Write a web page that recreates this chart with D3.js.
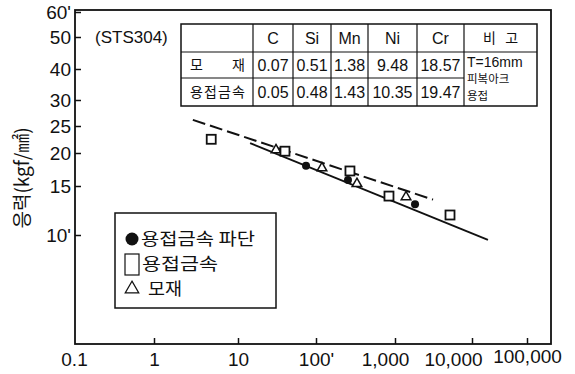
<!DOCTYPE html>
<html>
<head>
<meta charset="utf-8">
<script src="https://cdn.jsdelivr.net/npm/d3@7"></script>
<style>
  body { margin: 0; background: #fff; }
  svg { display: block; }
  .axis text { font-family: "Liberation Sans", Arial, sans-serif; font-size: 19px; fill: #111; }
  .axis line { stroke: #111; stroke-width: 1.5; }
  .kr { font-family: "Noto Sans CJK KR", sans-serif; fill: #111; }
  .num { font-family: "Liberation Sans Narrow", "Liberation Sans", Arial, sans-serif; fill: #111; }
</style>
</head>
<body>
<svg id="chart" width="575" height="374"></svg>
<script>
// x: cycles (log), y: stress kgf/mm2 (log)
const xTicks = [0.1, 1, 10, 100, 1000, 10000, 100000];
const xTickLabels = ['0.1', '1', '10', "100'", '1,000', '10,000', '100,000'];
const yTicks = [10, 15, 20, 25, 30, 40, 50, 60];
const yTickLabels = ["10'", '15', '20', '25', '30', '40', '50', "60'"];

// 용접금속 파단 (filled circles)
const weldFracture = [[74.5, 17.9], [254, 15.8], [1820, 12.9]];
// 용접금속 (squares)
const weldMetal = [[4.8, 22.4], [40, 20.3], [269, 17.1], [839, 13.8], [5180, 11.8]];
// 모재 (triangles)
const baseMetal = [[30.7, 20.5], [119, 17.55], [330, 15.3], [1390, 13.7]];

const solidLine = [[14.3, 21.7], [19500, 9.6]];
const dashedLine = [[2.9, 26.1], [3120, 13.4]];

// composition table
const elements = ['C', 'Si', 'Mn', 'Ni', 'Cr'];
const rowNames = ['모재', '용접금속'];
const baseComp = ['0.07', '0.51', '1.38', '9.48', '18.57'];
const weldComp = ['0.05', '0.48', '1.43', '10.35', '19.47'];
const remarkHead = '비   고';
const remarkLines = ['T=16mm', '피복아크', '용접'];

const legendItems = ['용접금속 파단', '용접금속', '모재'];

const frame = { left: 75, right: 551, top: 10, bottom: 344 };

const svg = d3.select('#chart');

// the printed axes are not evenly spaced, so piecewise log scales follow the ticks
const x = d3.scaleLog()
  .domain(xTicks)
  .range([74, 154, 238, 316, 395, 472, 527]);

const y = d3.scaleLog()
  .domain(yTicks)
  .range([235, 186, 153, 126, 100, 69, 37, 12]);

const xAxis = d3.axisBottom(x)
  .tickValues(xTicks)
  .tickFormat((d, i) => xTickLabels[i])
  .tickSizeInner(-6)
  .tickSizeOuter(0)
  .tickPadding(9);

const yAxis = d3.axisLeft(y)
  .tickValues(yTicks)
  .tickFormat((d, i) => yTickLabels[i])
  .tickSizeInner(-6)
  .tickSizeOuter(0)
  .tickPadding(4);

const gx = svg.append('g')
  .attr('class', 'axis')
  .attr('transform', `translate(0,${frame.bottom})`)
  .call(xAxis);
gx.select('.domain').remove();
gx.select('.tick:first-of-type line').remove();
// crowded labels at the right end are nudged as in the print
gx.selectAll('.tick text')
  .attr('x', d => d === 1000 ? -10 : d === 10000 ? -19 : 0)
  .attr('y', d => d === 100000 ? 6 : 9);

const gy = svg.append('g')
  .attr('class', 'axis')
  .attr('transform', `translate(${frame.left},0)`)
  .call(yAxis);
gy.select('.domain').remove();
gy.selectAll('.tick text').attr('dy', '0.36em');

// frame
svg.append('rect')
  .attr('x', frame.left)
  .attr('y', frame.top)
  .attr('width', frame.right - frame.left)
  .attr('height', frame.bottom - frame.top)
  .attr('fill', 'none')
  .attr('stroke', '#111')
  .attr('stroke-width', 1.8);

// y title
svg.append('text')
  .attr('class', 'kr')
  .attr('transform', 'translate(29,178) rotate(-90)')
  .attr('text-anchor', 'middle')
  .style('font-size', '19px')
  .text('응력(kgf/㎟)');

svg.append('text')
  .attr('class', 'num')
  .attr('x', 95)
  .attr('y', 43)
  .style('font-family', '"Liberation Sans", Arial, sans-serif')
  .style('font-size', '17px')
  .text('(STS304)');

// lines
const line = d3.line().x(d => x(d[0])).y(d => y(d[1]));

svg.append('path')
  .attr('d', line(solidLine))
  .attr('fill', 'none')
  .attr('stroke', '#111')
  .attr('stroke-width', 1.8);

svg.append('path')
  .attr('d', line(dashedLine))
  .attr('fill', 'none')
  .attr('stroke', '#111')
  .attr('stroke-width', 2)
  .attr('stroke-dasharray', '13,5');

// markers
const tri = d3.symbol().type(d3.symbolTriangle).size(40);

svg.selectAll('.tri')
  .data(baseMetal)
  .enter()
  .append('path')
  .attr('class', 'tri')
  .attr('d', tri)
  .attr('transform', d => `translate(${x(d[0])},${y(d[1])})`)
  .attr('fill', '#fff')
  .attr('stroke', '#111')
  .attr('stroke-width', 1.5);

svg.selectAll('.sq')
  .data(weldMetal)
  .enter()
  .append('rect')
  .attr('class', 'sq')
  .attr('x', d => x(d[0]) - 4.5)
  .attr('y', d => y(d[1]) - 4.5)
  .attr('width', 9)
  .attr('height', 9)
  .attr('fill', '#fff')
  .attr('stroke', '#111')
  .attr('stroke-width', 1.8);

svg.selectAll('.dot')
  .data(weldFracture)
  .enter()
  .append('circle')
  .attr('class', 'dot')
  .attr('cx', d => x(d[0]))
  .attr('cy', d => y(d[1]))
  .attr('r', 4)
  .attr('fill', '#111');

// table
const colX = [181, 253, 293, 331, 368, 417, 464, 537];
const rowY = [24, 52, 78, 106];
const tbl = svg.append('g');

tbl.append('rect')
  .attr('x', colX[0]).attr('y', rowY[0])
  .attr('width', colX[7] - colX[0]).attr('height', rowY[3] - rowY[0])
  .attr('fill', '#fff').attr('stroke', '#111').attr('stroke-width', 1.5);

colX.slice(1, 7).forEach(cx => {
  tbl.append('line')
    .attr('x1', cx).attr('x2', cx).attr('y1', rowY[0]).attr('y2', rowY[3])
    .attr('stroke', '#111').attr('stroke-width', 1.2);
});
tbl.append('line')
  .attr('x1', colX[0]).attr('x2', colX[7]).attr('y1', rowY[1]).attr('y2', rowY[1])
  .attr('stroke', '#111').attr('stroke-width', 1.2);
tbl.append('line')
  .attr('x1', colX[0]).attr('x2', colX[6]).attr('y1', rowY[2]).attr('y2', rowY[2])
  .attr('stroke', '#111').attr('stroke-width', 1.2);

const mid = (a, b) => (a + b) / 2;

elements.forEach((e, i) => {
  tbl.append('text').attr('class', 'num')
    .attr('x', mid(colX[i + 1], colX[i + 2])).attr('y', mid(rowY[0], rowY[1]))
    .attr('dy', '0.36em').attr('text-anchor', 'middle')
    .style('font-size', '16px').text(e);
});

[baseComp, weldComp].forEach((vals, r) => {
  tbl.append('text').attr('class', 'kr')
    .attr('x', 190).attr('y', mid(rowY[r + 1], rowY[r + 2]))
    .attr('dy', '0.36em')
    .attr('textLength', 55).attr('lengthAdjust', 'spacing')
    .style('font-size', '14px').text(rowNames[r]);
  vals.forEach((v, i) => {
    tbl.append('text').attr('class', 'num')
      .attr('x', mid(colX[i + 1], colX[i + 2])).attr('y', mid(rowY[r + 1], rowY[r + 2]))
      .attr('dy', '0.36em').attr('text-anchor', 'middle')
      .style('font-size', '16px').text(v);
  });
});

tbl.append('text').attr('class', 'kr')
  .attr('x', mid(colX[6], colX[7])).attr('y', mid(rowY[0], rowY[1]))
  .attr('dy', '0.36em').attr('text-anchor', 'middle')
  .style('font-size', '14px').style('white-space', 'pre')
  .text(remarkHead);

remarkLines.forEach((t, i) => {
  tbl.append('text').attr('class', i === 0 ? 'num' : 'kr')
    .attr('x', 467).attr('y', 62 + i * 17)
    .attr('dy', '0.36em')
    .style('font-size', i === 0 ? '14px' : '11.5px')
    .text(t);
});

// legend
const lg = svg.append('g');
lg.append('rect')
  .attr('x', 115).attr('y', 213).attr('width', 161).attr('height', 95)
  .attr('fill', '#fff').attr('stroke', '#111').attr('stroke-width', 1.5);

lg.append('circle').attr('cx', 132).attr('cy', 239).attr('r', 6.5).attr('fill', '#111');
lg.append('rect').attr('x', 125).attr('y', 254).attr('width', 14).attr('height', 21)
  .attr('fill', '#fff').attr('stroke', '#111').attr('stroke-width', 1.2);
lg.append('path').attr('d', d3.symbol().type(d3.symbolTriangle).size(80))
  .attr('transform', 'translate(132,289)')
  .attr('fill', '#fff').attr('stroke', '#111').attr('stroke-width', 1.2);

const legendX = [141, 142, 148];
const legendY = [239, 264, 289];
const legendW = [114, 76, 34];
legendItems.forEach((t, i) => {
  lg.append('text').attr('class', 'kr')
    .attr('x', legendX[i]).attr('y', legendY[i])
    .attr('dy', '0.36em')
    .attr('textLength', legendW[i]).attr('lengthAdjust', 'spacingAndGlyphs')
    .style('font-size', '17px')
    .text(t);
});
</script>
</body>
</html>
